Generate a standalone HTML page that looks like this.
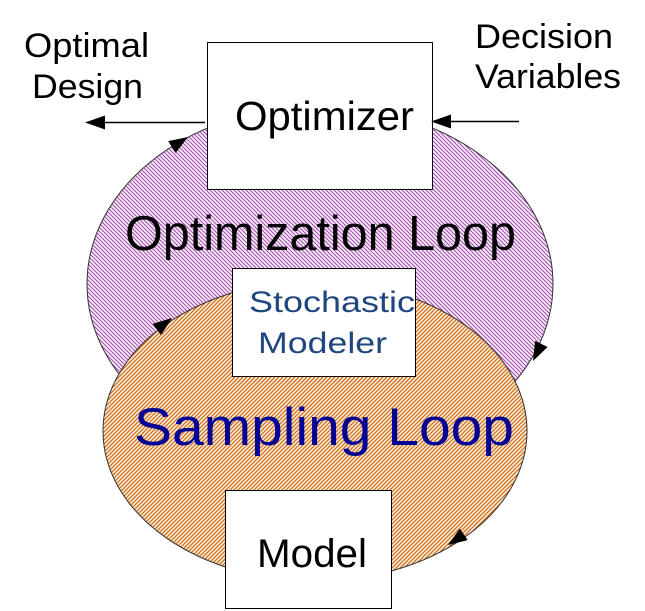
<!DOCTYPE html>
<html>
<head>
<meta charset="utf-8">
<style>
  html,body{margin:0;padding:0;background:#fff;}
  svg{display:block;}
  text{font-family:"Liberation Sans", Arial, sans-serif;}
</style>
</head>
<body>
<svg width="645" height="611" viewBox="0 0 645 611" xmlns="http://www.w3.org/2000/svg">
  <defs>
    <pattern id="purp" patternUnits="userSpaceOnUse" width="4" height="4">
      <rect width="4" height="4" fill="#fbeffb"/>
      <path d="M-1,-1 L5,5 M-1,3 L1,5 M3,-1 L5,1" stroke="#a352ad" stroke-width="1.1"/>
    </pattern>
    <pattern id="oran" patternUnits="userSpaceOnUse" width="4" height="4">
      <rect width="4" height="4" fill="#fdebd2"/>
      <path d="M-1,5 L5,-1 M-1,1 L1,-1 M3,5 L5,3" stroke="#cc6e22" stroke-width="1.2"/>
    </pattern>
  </defs>

  <!-- Optimization loop ellipse -->
  <ellipse cx="320" cy="284" rx="233" ry="178" fill="url(#purp)" stroke="#333" stroke-width="1"/>
  <!-- Sampling loop ellipse -->
  <ellipse cx="315" cy="431" rx="212" ry="150" fill="url(#oran)" stroke="#333" stroke-width="1"/>

  <!-- Optimization Loop text -->
  <text x="125" y="250" font-size="49" fill="#000" textLength="391" lengthAdjust="spacingAndGlyphs">Optimization Loop</text>

  <!-- Sampling Loop text -->
  <text x="134" y="445" font-size="53" fill="#000096" textLength="380" lengthAdjust="spacingAndGlyphs">Sampling Loop</text>

  <!-- Optimizer box -->
  <rect x="207.5" y="42.5" width="225" height="147" fill="#fff" stroke="#000" stroke-width="1"/>
  <text x="235" y="130" font-size="41" fill="#000" textLength="179" lengthAdjust="spacingAndGlyphs">Optimizer</text>

  <!-- Stochastic Modeler box -->
  <rect x="232.5" y="268.5" width="183" height="108" fill="#fff" stroke="#000" stroke-width="1"/>
  <text x="249" y="312" font-size="30" fill="#1f467e" textLength="166" lengthAdjust="spacingAndGlyphs">Stochastic</text>
  <text x="258" y="353" font-size="30" fill="#1f467e" textLength="129" lengthAdjust="spacingAndGlyphs">Modeler</text>

  <!-- Model box -->
  <rect x="225.5" y="490.5" width="166" height="118" fill="#fff" stroke="#000" stroke-width="1"/>
  <text x="257" y="567" font-size="40" fill="#000" textLength="110" lengthAdjust="spacingAndGlyphs">Model</text>

  <!-- Side labels -->
  <text x="24" y="57" font-size="34" fill="#000" textLength="125" lengthAdjust="spacingAndGlyphs">Optimal</text>
  <text x="32" y="98" font-size="34" fill="#000" textLength="111" lengthAdjust="spacingAndGlyphs">Design</text>
  <text x="475" y="48" font-size="34" fill="#000" textLength="138" lengthAdjust="spacingAndGlyphs">Decision</text>
  <text x="475" y="88" font-size="34" fill="#000" textLength="146" lengthAdjust="spacingAndGlyphs">Variables</text>

  <!-- Output arrow (left) -->
  <line x1="205" y1="122.5" x2="98" y2="122.5" stroke="#000" stroke-width="1.5"/>
  <path d="M85,122.5 L105,115.5 L105,129.5 Z" fill="#000"/>

  <!-- Input arrow (right) -->
  <line x1="519" y1="121.5" x2="444" y2="121.5" stroke="#000" stroke-width="1.5"/>
  <path d="M431,121.5 L451,114.5 L451,128.5 Z" fill="#000"/>

  <!-- Loop arrowheads -->
  <g fill="#000">
    <path d="M0,0 L-19,-7 L-19,7 Z" transform="translate(188,137) rotate(-32)"/>
    <path d="M0,0 L-19,-7 L-19,7 Z" transform="translate(172,318) rotate(-37)"/>
    <path d="M0,0 L-19,-7 L-19,7 Z" transform="translate(533,361) rotate(116)"/>
    <path d="M0,0 L-19,-7 L-19,7 Z" transform="translate(448,545) rotate(146)"/>
  </g>
</svg>
</body>
</html>
